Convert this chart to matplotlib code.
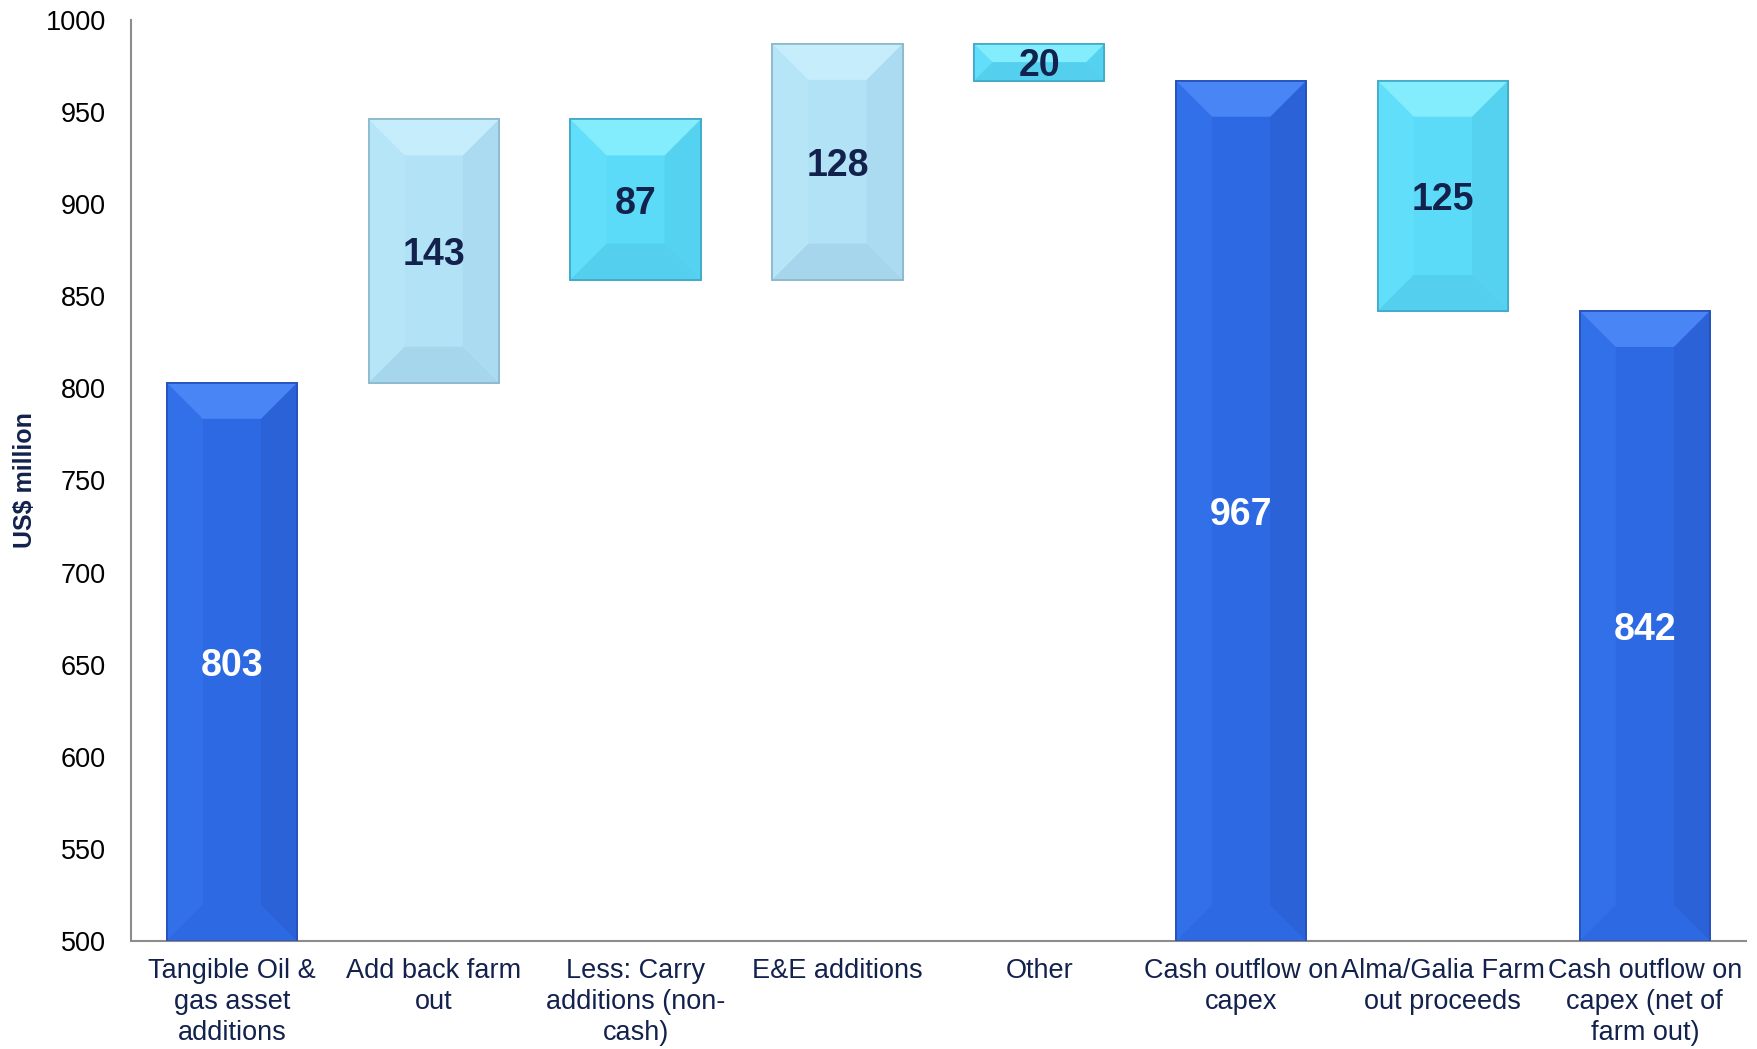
import matplotlib.pyplot as plt
from matplotlib.patches import Polygon
import numpy as np

plt.rcParams['font.family'] = ['Liberation Sans', 'DejaVu Sans']

categories = ["Tangible Oil &\ngas asset\nadditions", "Add back farm\nout",
              "Less: Carry\nadditions (non-\ncash)", "E&E additions", "Other",
              "Cash outflow on\ncapex", "Alma/Galia Farm\nout proceeds",
              "Cash outflow on\ncapex (net of\nfarm out)"]
values = [803, 143, -87, 128, -20, 967, -125, 842]
kinds = ["total", "up", "down", "up", "down", "total", "down", "total"]

# face, top bevel, bottom bevel, left side, right side, edge
palette = {
    "total": ("#2e69e4", "#4a85f5", "#2c64da", "#3270e9", "#2b62d8", "#2450b8"),
    "up": ("#b2e2f6", "#c6edfb", "#a6d6eb", "#b7e5f8", "#abdbf0", "#8cb8cc"),
    "down": ("#5bdbf7", "#84edfd", "#54d0ee", "#61dffa", "#54d2f0", "#3fa9c8"),
}
label_colors = {"total": "white", "up": "#13224d", "down": "#13224d"}

# running totals for the floating bars
bottoms, heights = [], []
level = 0
for v, k in zip(values, kinds):
    if k == "total":
        bottoms.append(0)
        heights.append(v)
        level = v
    else:
        start = level
        level = level + v
        bottoms.append(min(start, level))
        heights.append(abs(v))

fig = plt.figure(figsize=(17.58, 10.49), dpi=100)
ax = fig.add_axes([0.0745, 0.103, 0.9185, 0.878])
ax.set_xlim(-0.5, len(values) - 0.5)
ax.set_ylim(500, 1000)

x = np.arange(len(values))
bars = ax.bar(x, heights, bottom=bottoms, width=0.645, linewidth=1.2,
              color=[palette[k][0] for k in kinds],
              edgecolor=[palette[k][5] for k in kinds], zorder=2)

# bevel size in pixels converted to data units
p0 = ax.transData.transform((0, 500))
p1 = ax.transData.transform((1, 600))
bx = 36 / (p1[0] - p0[0])
by = 36 / ((p1[1] - p0[1]) / 100)

for bar, k in zip(bars, kinds):
    face, top_c, bot_c, left_c, right_c, edge_c = palette[k]
    x0 = bar.get_x()
    x1 = x0 + bar.get_width()
    y0 = max(bar.get_y(), 500)
    y1 = bar.get_y() + bar.get_height()
    d = min(by, (y1 - y0) / 2)
    dx = bx * d / by
    # left, right, top and bottom facets of the bevel
    ax.add_patch(Polygon([(x0, y0), (x0, y1), (x0 + dx, y1 - d), (x0 + dx, y0 + d)],
                         closed=True, facecolor=left_c, edgecolor="none", zorder=3))
    ax.add_patch(Polygon([(x1, y0), (x1, y1), (x1 - dx, y1 - d), (x1 - dx, y0 + d)],
                         closed=True, facecolor=right_c, edgecolor="none", zorder=3))
    ax.add_patch(Polygon([(x0, y1), (x1, y1), (x1 - dx, y1 - d), (x0 + dx, y1 - d)],
                         closed=True, facecolor=top_c, edgecolor="none", zorder=3))
    if bar.get_y() >= 500:
        ax.add_patch(Polygon([(x0, y0), (x1, y0), (x1 - dx, y0 + d), (x0 + dx, y0 + d)],
                             closed=True, facecolor=bot_c, edgecolor="none", zorder=3))
    ax.add_patch(Polygon([(x0, y0), (x1, y0), (x1, y1), (x0, y1)], closed=True,
                         facecolor="none", edgecolor=edge_c, linewidth=1.2, zorder=4))

for xi, v, b, h, k in zip(x, values, bottoms, heights, kinds):
    if k == "total":
        yc = (500 + v) / 2
    else:
        yc = b + h / 2
    ax.text(xi, yc, str(abs(v)), ha="center", va="center_baseline", fontsize=27,
            fontweight="bold", color=label_colors[k], zorder=5)

ax.set_xticks(x)
ax.set_xticklabels(categories, fontsize=19.5, color="#13224d", linespacing=1.25)
ax.set_yticks(np.arange(500, 1001, 50))
ax.tick_params(axis="y", labelsize=19.5, length=0, pad=18)
ax.tick_params(axis="x", length=0, pad=12)
ax.set_ylabel("US$ million", fontsize=18, fontweight="bold", color="#13224d")
ax.yaxis.set_label_coords(-0.058, 0.5)

for side in ["top", "right"]:
    ax.spines[side].set_visible(False)
for side in ["left", "bottom"]:
    ax.spines[side].set_color("#8c8c8c")
    ax.spines[side].set_linewidth(1.5)

fig.savefig("out.png", dpi=100)
